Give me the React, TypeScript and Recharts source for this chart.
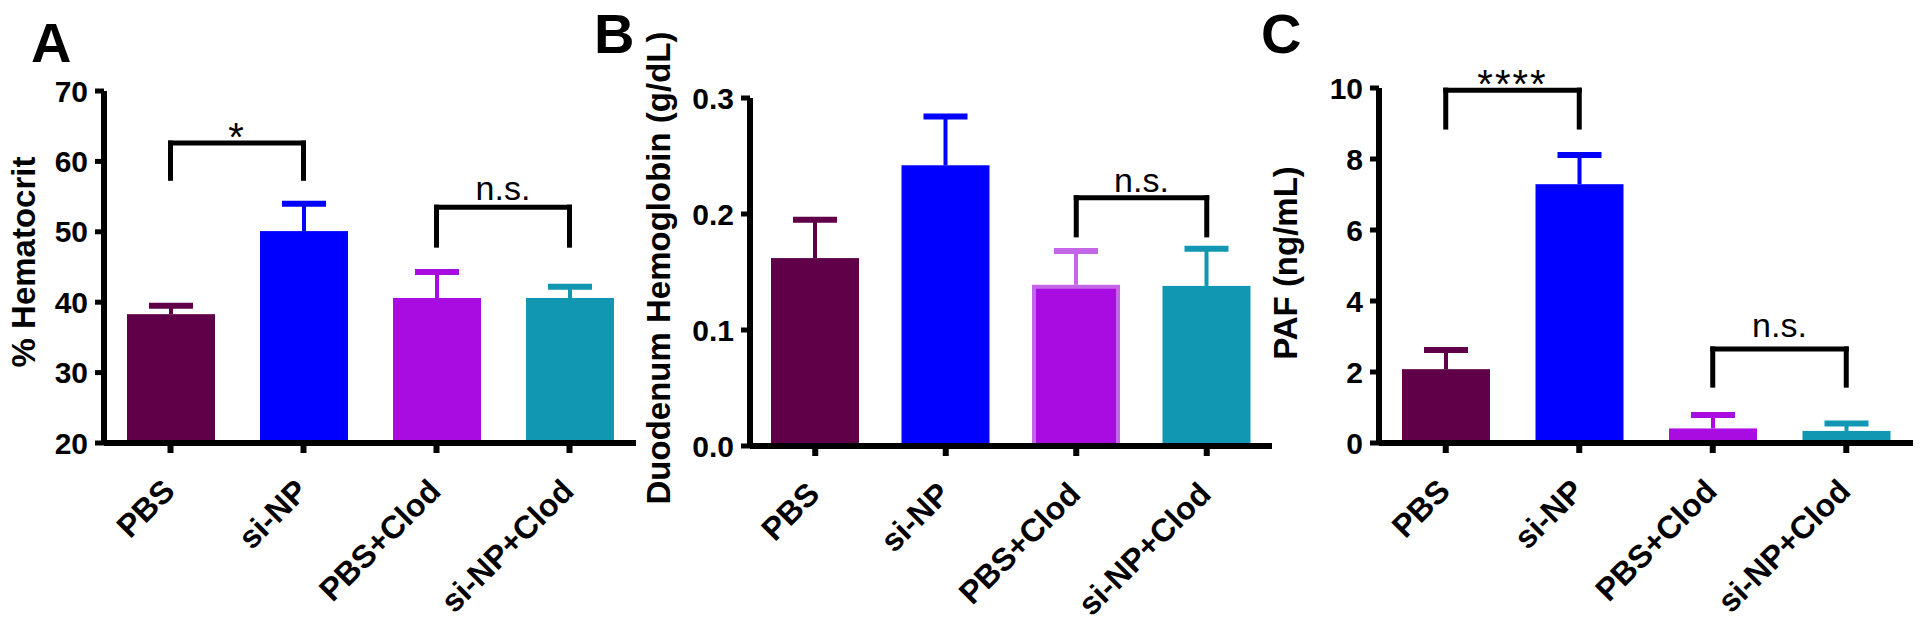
import React from 'react';
import { BarChart, Bar, XAxis, YAxis, ReferenceLine, Cell } from 'recharts';

// ---------- data ----------
const categories = ['PBS', 'si-NP', 'PBS+Clod', 'si-NP+Clod'];

const hematocritMean = [38.3, 50.1, 40.6, 40.6];
const hematocritErr = [1.2, 3.9, 3.7, 1.6];
const hematocritTicks = [20, 30, 40, 50, 60, 70];
const hematocritPairs = [['PBS', 'si-NP'], ['PBS+Clod', 'si-NP+Clod']];
const hematocritBracketTop = [62.6, 53.5];
const hematocritBracketLeg = [57.6, 48.1];
const hematocritBracketText = ['*', 'n.s.'];

const hemoglobinMean = [0.162, 0.242, 0.139, 0.138];
const hemoglobinErr = [0.033, 0.042, 0.029, 0.032];
const hemoglobinTicks = [0, 0.1, 0.2, 0.3];
const hemoglobinPairs = [['PBS+Clod', 'si-NP+Clod']];
const hemoglobinBracketTop = [0.214];
const hemoglobinBracketLeg = [0.182];
const hemoglobinBracketText = ['n.s.'];

const pafMean = [2.08, 7.29, 0.41, 0.34];
const pafErr = [0.54, 0.82, 0.38, 0.21];
const pafTicks = [0, 2, 4, 6, 8, 10];
const pafPairs = [['PBS', 'si-NP'], ['PBS+Clod', 'si-NP+Clod']];
const pafBracketTop = [9.94, 2.65];
const pafBracketLeg = [8.9, 1.63];
const pafBracketText = ['****', 'n.s.'];

// ---------- styles ----------
const FONT = "'Liberation Sans', Arial, Helvetica, sans-serif";
const barColors = ['#5f0049', '#0000ff', '#a90ce0', '#1297b3'];

const buildRows = (means: number[], errs: number[]) =>
  categories.map((name, i) => ({ name, value: means[i], err: errs[i] }));

const buildBrackets = (pairs: string[][], tops: number[], legs: number[], texts: string[]) =>
  pairs.map((p, i) => ({ from: p[0], to: p[1], top: tops[i], leg: legs[i], text: texts[i] }));

const makeShape = (base: number) => (props: any) => {
  const { x, y, width, height, fill, payload, stroke } = props;
  const v = payload.value;
  const ppu = height / (v - base);
  const errTop = y - payload.err * ppu;
  const cx = x + width / 2;
  const errColor = stroke || fill;
  const inset = stroke ? 2 : 0;
  return (
    <g>
      <line x1={cx} x2={cx} y1={y} y2={errTop} stroke={errColor} strokeWidth={4} />
      <line x1={cx - width / 4} x2={cx + width / 4} y1={errTop} y2={errTop} stroke={errColor} strokeWidth={6} />
      <rect
        x={x + inset}
        y={y + inset}
        width={width - 2 * inset}
        height={height - inset}
        fill={fill}
        stroke={stroke || 'none'}
        strokeWidth={stroke ? 4 : 0}
      />
    </g>
  );
};

const CategoryTick = (props: any) => {
  const { x, y, payload } = props;
  return (
    <text
      x={0}
      y={0}
      transform={`translate(${x + 6},${y + 38}) rotate(-45)`}
      textAnchor="end"
      fontSize={32}
      fontWeight="bold"
      fontFamily={FONT}
      fill="#000"
    >
      {payload.value}
    </text>
  );
};

const makeBracketLabel = (text: string, nsGap: number) => (p: any) => {
  const vb = p.viewBox || {};
  const x0 = vb.x ?? vb.x1 ?? 0;
  const y0 = vb.y ?? vb.y1 ?? 0;
  const w = vb.width ?? ((vb.x2 ?? x0) - x0);
  const cx = x0 + w / 2;
  const isStar = text.indexOf('*') >= 0;
  return (
    <text
      x={cx}
      y={isStar ? y0 + 8 : y0 - nsGap}
      textAnchor="middle"
      fontSize={isStar ? 40 : 34}
      letterSpacing={isStar ? 2 : 0}
      fontFamily={FONT}
      fill="#000"
    >
      {text}
    </text>
  );
};

type PanelProps = {
  plotLeft: number;
  plotRight: number;
  plotTop: number;
  plotBottom: number;
  domain: [number, number];
  ticks: number[];
  fmt?: (v: number) => string;
  rows: any[];
  brackets: any[];
  nsGap: number;
  paleIndex?: number;
};

function Panel(p: PanelProps) {
  const yAxisW = 80;
  const chartLeft = p.plotLeft - yAxisW - 10;
  const width = p.plotRight - chartLeft + 6;
  const height = 622;
  const shape = makeShape(p.domain[0]);
  const lines: any[] = [];
  p.brackets.forEach((b, i) => {
    const common = { stroke: '#000', strokeWidth: 5, strokeLinecap: 'square' as const, ifOverflow: 'visible' as const };
    lines.push(
      <ReferenceLine key={`l${i}`} {...common} segment={[{ x: b.from, y: b.leg }, { x: b.from, y: b.top }]} />
    );
    lines.push(
      <ReferenceLine
        key={`h${i}`}
        {...common}
        segment={[{ x: b.from, y: b.top }, { x: b.to, y: b.top }]}
        label={{ value: b.text, content: makeBracketLabel(b.text, p.nsGap) }}
      />
    );
    lines.push(
      <ReferenceLine key={`r${i}`} {...common} segment={[{ x: b.to, y: b.top }, { x: b.to, y: b.leg }]} />
    );
  });
  return (
    <div style={{ position: 'absolute', left: chartLeft, top: 0, width, height }}>
      <BarChart
        width={width}
        height={height}
        data={p.rows}
        margin={{ top: p.plotTop, right: 6, bottom: 0, left: 10 }}
      >
        <XAxis
          dataKey="name"
          type="category"
          interval={0}
          height={height - p.plotBottom}
          axisLine={{ stroke: '#000', strokeWidth: 6 }}
          tickLine={{ stroke: '#000', strokeWidth: 6 }}
          tickSize={10}
          tickMargin={2}
          tick={<CategoryTick />}
        />
        <YAxis
          type="number"
          width={yAxisW}
          domain={p.domain}
          ticks={p.ticks}
          interval={0}
          tickFormatter={p.fmt}
          axisLine={{ stroke: '#000', strokeWidth: 6 }}
          tickLine={{ stroke: '#000', strokeWidth: 5 }}
          tickSize={9}
          tickMargin={7}
          tick={{ fill: '#000', fontSize: 30, fontWeight: 'bold', fontFamily: FONT }}
        />
        <Bar dataKey="value" barSize={88} isAnimationActive={false} shape={shape}>
          {p.rows.map((r, i) => (
            <Cell
              key={r.name}
              fill={barColors[i]}
              stroke={p.paleIndex === i ? '#c466e8' : undefined}
            />
          ))}
        </Bar>
        {lines}
      </BarChart>
    </div>
  );
}

export default function App() {
  return (
    <div style={{ position: 'absolute', left: 0, top: 0, width: 1920, height: 622, background: '#fff', overflow: 'hidden' }}>
      <Panel
        plotLeft={104}
        plotRight={636}
        plotTop={91}
        plotBottom={443}
        domain={[20, 70]}
        ticks={hematocritTicks}
        rows={buildRows(hematocritMean, hematocritErr)}
        brackets={buildBrackets(hematocritPairs, hematocritBracketTop, hematocritBracketLeg, hematocritBracketText)}
        nsGap={7}
      />
      <Panel
        plotLeft={750}
        plotRight={1272}
        plotTop={98}
        plotBottom={446}
        domain={[0, 0.3]}
        ticks={hemoglobinTicks}
        fmt={(v: number) => v.toFixed(1)}
        rows={buildRows(hemoglobinMean, hemoglobinErr)}
        brackets={buildBrackets(hemoglobinPairs, hemoglobinBracketTop, hemoglobinBracketLeg, hemoglobinBracketText)}
        nsGap={6}
        paleIndex={2}
      />
      <Panel
        plotLeft={1379}
        plotRight={1913}
        plotTop={88}
        plotBottom={443}
        domain={[0, 10]}
        ticks={pafTicks}
        rows={buildRows(pafMean, pafErr)}
        brackets={buildBrackets(pafPairs, pafBracketTop, pafBracketLeg, pafBracketText)}
        nsGap={12}
      />
      <svg width={1920} height={622} style={{ position: 'absolute', left: 0, top: 0, pointerEvents: 'none' }}>
        <g fontFamily={FONT} fontWeight="bold" fill="#000">
          <text x={31} y={62} fontSize={56}>A</text>
          <text x={594} y={53} fontSize={56}>B</text>
          <text x={1261} y={53} fontSize={56}>C</text>
          <text x={35} y={262} fontSize={33} textAnchor="middle" transform="rotate(-90 35 262)">% Hematocrit</text>
          <text x={670} y={268} fontSize={33} textAnchor="middle" transform="rotate(-90 670 268)">Duodenum Hemoglobin (g/dL)</text>
          <text x={1297} y={263} fontSize={33} textAnchor="middle" transform="rotate(-90 1297 263)">PAF (ng/mL)</text>
        </g>
      </svg>
    </div>
  );
}
